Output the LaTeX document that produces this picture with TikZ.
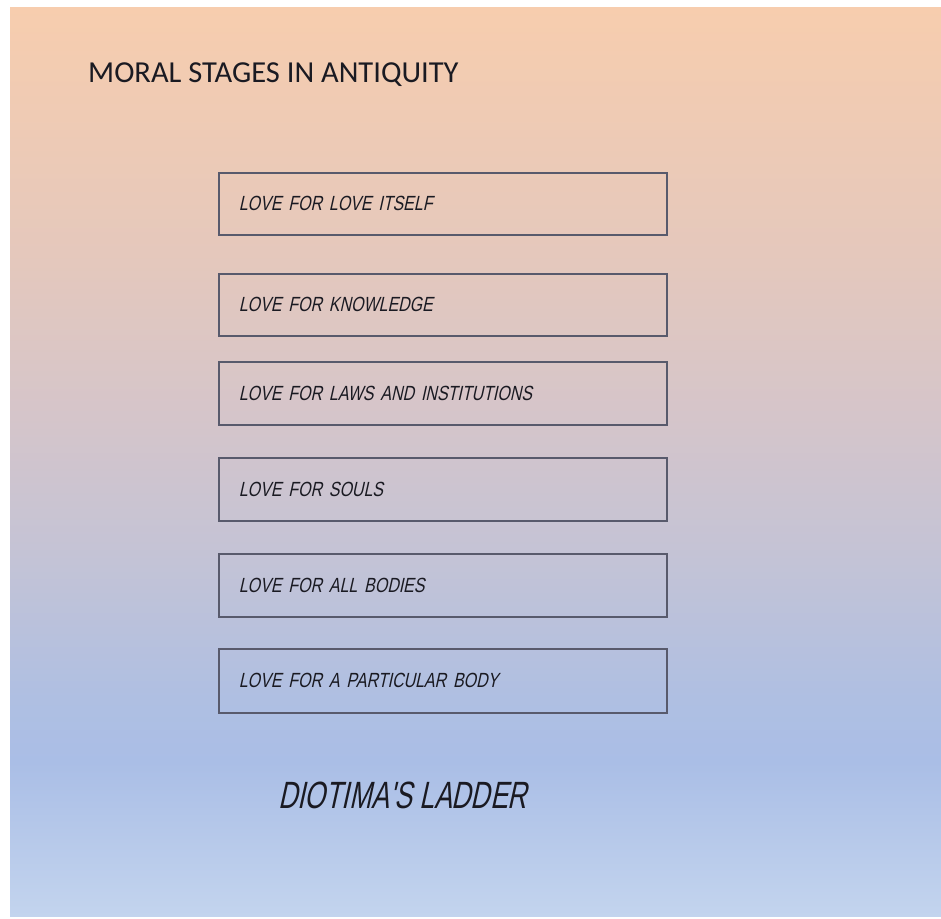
\documentclass[tikz,border=0pt]{standalone}
\usepackage{fontspec}
\setmainfont{Carlito}
\newfontfamily\handfont[FakeSlant=0.22,FakeStretch=0.78]{Liberation Sans}
\newfontfamily\ladderfont[FakeSlant=0.22,FakeStretch=0.70]{Liberation Sans}
\definecolor{boxline}{HTML}{585A6C}
\definecolor{inkc}{HTML}{1A1A22}
\definecolor{c0}{HTML}{F7CDAE}
\definecolor{c1}{HTML}{E5C8BC}
\definecolor{c2}{HTML}{D5C5CA}
\definecolor{c3}{HTML}{C3C3D6}
\definecolor{c4}{HTML}{AFBFE2}
\definecolor{c5}{HTML}{AABEE6}
\definecolor{c6}{HTML}{C3D4EE}
\pgfdeclareverticalshading{bgshade}{100bp}{%
 color(0bp)=(c6); color(25bp)=(c6); color(33.5bp)=(c5); color(37bp)=(c4);
 color(44.5bp)=(c3); color(52.5bp)=(c2); color(61.5bp)=(c1); color(75bp)=(c0); color(100bp)=(c0)}
\begin{document}
\begin{tikzpicture}[x=1pt,y=-1pt,
  stagebox/.style={draw=boxline, line width=1.6pt, rectangle, anchor=north west,
    minimum width=448pt, minimum height=62pt, text width=408pt, inner xsep=20pt,
    align=left, font=\handfont\fontsize{20.5}{23}\selectfont, text=inkc},
  titletext/.style={anchor=base west, inner sep=0pt, font=\fontsize{30.5}{34}\selectfont, text=inkc},
  laddertext/.style={anchor=base west, inner sep=0pt, font=\ladderfont\fontsize{38}{42}\selectfont, text=inkc}]
\useasboundingbox (0,0) rectangle (941,918);
\fill[white] (0,0) rectangle (941,918);
\shade[shading=bgshade] (10,7) rectangle (941,916);
\node[titletext] (title) at (88,82) {MORAL STAGES IN ANTIQUITY};
\node[stagebox] (s6) at (218,172) {LOVE FOR LOVE ITSELF};
\node[stagebox] (s5) at (218,273) {LOVE FOR KNOWLEDGE};
\node[stagebox, minimum height=63pt] (s4) at (218,361) {LOVE FOR LAWS AND INSTITUTIONS};
\node[stagebox, minimum height=63pt] (s3) at (218,457) {LOVE FOR SOULS};
\node[stagebox, minimum height=63pt] (s2) at (218,553) {LOVE FOR ALL BODIES};
\node[stagebox, minimum height=64pt] (s1) at (218,648) {LOVE FOR A PARTICULAR BODY};
\node[laddertext] (ladder) at (278,808) {DIOTIMA'S LADDER};
\end{tikzpicture}
\end{document}
